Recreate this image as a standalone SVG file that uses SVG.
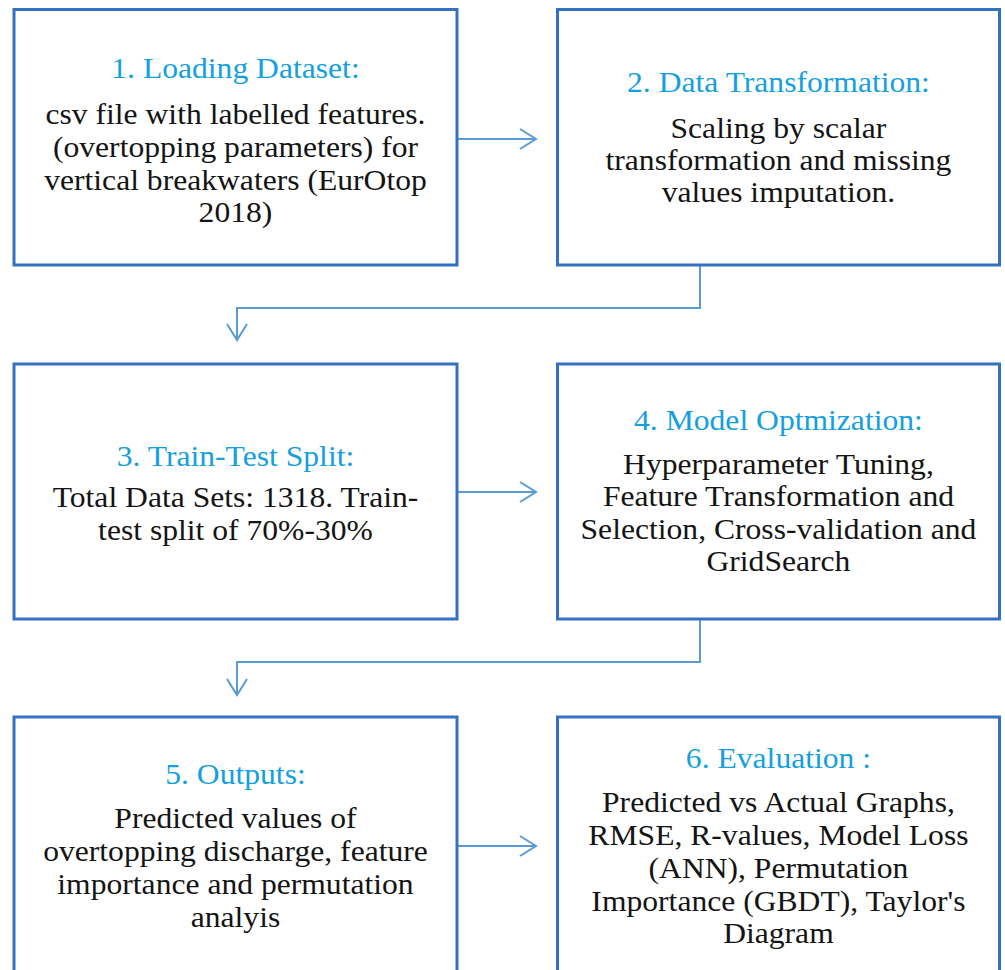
<svg xmlns="http://www.w3.org/2000/svg" width="1005" height="970" viewBox="0 0 1005 970">
  <defs>
    <marker id="chev" markerUnits="userSpaceOnUse" markerWidth="22" markerHeight="24" refX="18" refY="11" orient="auto">
      <path d="M2,1 L18,11 L2,21" fill="none" stroke="#5b9bd5" stroke-width="2"/>
    </marker>
    <style>
      .box { fill: #ffffff; stroke: #3471c0; stroke-width: 3; }
      .link { fill: none; stroke: #5b9bd5; stroke-width: 2; marker-end: url(#chev); }
      .label { font-family: 'Liberation Serif', 'Times New Roman', serif; font-size: 29px; text-anchor: middle; fill: #141414; }
      .title { fill: #14a0e0; }
    </style>
  </defs>
  <rect width="1005" height="970" fill="#ffffff"/>

  <!-- flow connectors -->
  <g id="connectors">
    <path class="link" d="M457,139 H536"/>
    <path class="link" d="M700,265 V308 H237 V340"/>
    <path class="link" d="M457,492 H536"/>
    <path class="link" d="M700,619 V662 H237 V695"/>
    <path class="link" d="M457,846 H536"/>
  </g>

  <!-- text runs are widened slightly about each box centre -->
  <g id="step1">
    <rect class="box" x="14" y="9.5" width="443" height="255.5"/>
    <g class="label" transform="matrix(1.09 0 0 1 -21.2 0)">
      <text class="title" x="235.5" y="78">1. Loading Dataset:</text>
      <text x="235.5" y="124">csv file with labelled features.</text>
      <text x="235.5" y="157">(overtopping parameters) for</text>
      <text x="235.5" y="190">vertical breakwaters (EurOtop</text>
      <text x="235.5" y="222">2018)</text>
    </g>
  </g>

  <g id="step2">
    <rect class="box" x="557.5" y="9.5" width="442" height="255.5"/>
    <g class="label" transform="matrix(1.09 0 0 1 -70.1 0)">
      <text class="title" x="778.5" y="92">2. Data Transformation:</text>
      <text x="778.5" y="138">Scaling by scalar</text>
      <text x="778.5" y="170">transformation and missing</text>
      <text x="778.5" y="202">values imputation.</text>
    </g>
  </g>

  <g id="step3">
    <rect class="box" x="14" y="364" width="443" height="255"/>
    <g class="label" transform="matrix(1.09 0 0 1 -21.2 0)">
      <text class="title" x="235.5" y="466">3. Train-Test Split:</text>
      <text x="235.5" y="507">Total Data Sets: 1318. Train-</text>
      <text x="235.5" y="540">test split of 70%-30%</text>
    </g>
  </g>

  <g id="step4">
    <rect class="box" x="557.5" y="364" width="442" height="255"/>
    <g class="label" transform="matrix(1.09 0 0 1 -70.1 0)">
      <text class="title" x="778.5" y="430">4. Model Optmization:</text>
      <text x="778.5" y="474">Hyperparameter Tuning,</text>
      <text x="778.5" y="506">Feature Transformation and</text>
      <text x="778.5" y="539">Selection, Cross-validation and</text>
      <text x="778.5" y="571">GridSearch</text>
    </g>
  </g>

  <g id="step5">
    <rect class="box" x="14" y="717" width="443" height="260"/>
    <g class="label" transform="matrix(1.09 0 0 1 -21.2 0)">
      <text class="title" x="235.5" y="784">5. Outputs:</text>
      <text x="235.5" y="828">Predicted values of</text>
      <text x="235.5" y="861">overtopping discharge, feature</text>
      <text x="235.5" y="894">importance and permutation</text>
      <text x="235.5" y="927">analyis</text>
    </g>
  </g>

  <g id="step6">
    <rect class="box" x="557.5" y="717" width="442" height="260"/>
    <g class="label" transform="matrix(1.09 0 0 1 -70.1 0)">
      <text class="title" x="778.5" y="768">6. Evaluation :</text>
      <text x="778.5" y="812">Predicted vs Actual Graphs,</text>
      <text x="778.5" y="845">RMSE, R-values, Model Loss</text>
      <text x="778.5" y="878">(ANN), Permutation</text>
      <text x="778.5" y="911">Importance (GBDT), Taylor's</text>
      <text x="778.5" y="943">Diagram</text>
    </g>
  </g>
</svg>
